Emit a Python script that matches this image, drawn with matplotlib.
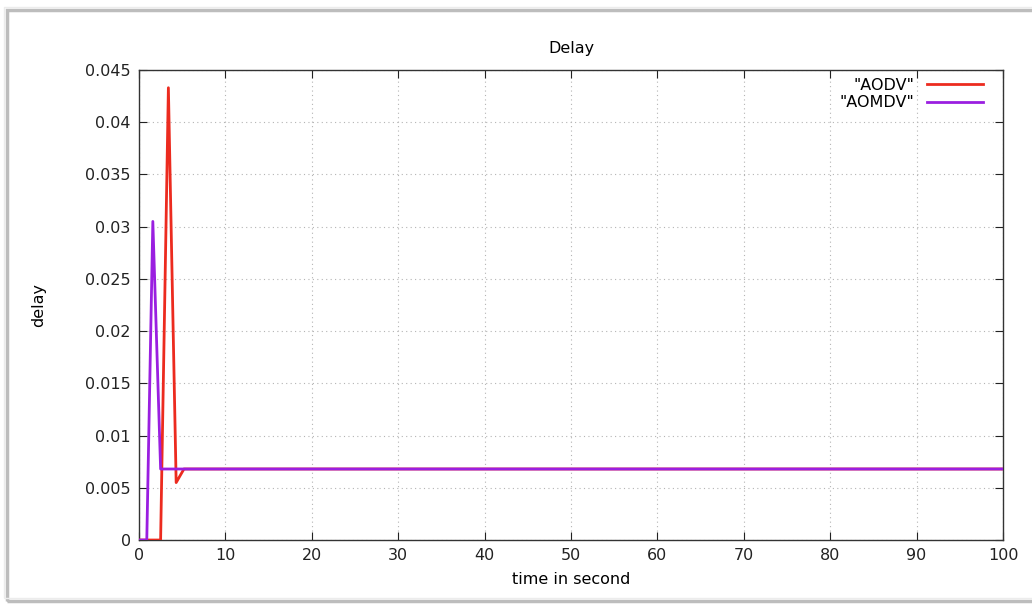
import numpy as np
import matplotlib
matplotlib.use("Agg")
import matplotlib.pyplot as plt
from matplotlib.patches import Rectangle

#--- data ---#
aodv_t = [0, 1, 2.5, 3.4, 4.3, 5.2, 10, 20, 30, 40, 50, 60, 70, 80, 90, 100]
aodv_d = [0, 0, 0, 0.0433, 0.0055, 0.0068, 0.0068, 0.0068, 0.0068, 0.0068,
          0.0068, 0.0068, 0.0068, 0.0068, 0.0068, 0.0068]
aomdv_t = [0, 0.9, 1.6, 2.5, 10, 20, 30, 40, 50, 60, 70, 80, 90, 100]
aomdv_d = [0, 0, 0.0305, 0.0068, 0.0068, 0.0068, 0.0068, 0.0068, 0.0068,
           0.0068, 0.0068, 0.0068, 0.0068, 0.0068]
x_ticks = [0, 10, 20, 30, 40, 50, 60, 70, 80, 90, 100]
y_ticks = [0, 0.005, 0.01, 0.015, 0.02, 0.025, 0.03, 0.035, 0.04, 0.045]
y_tick_labels = ["0", "0.005", "0.01", "0.015", "0.02", "0.025", "0.03",
                 "0.035", "0.04", "0.045"]

fig = plt.figure(figsize=(10.32, 6.08), dpi=100)
#--- screenshot frame with shadow (right side is cut off) ---#
fig.patches.append(Rectangle((0.007, 0.012), 1.05, 0.972, transform=fig.transFigure,
                             fill=False, edgecolor="#bdbdbd", linewidth=2.5, zorder=0))
fig.patches.append(Rectangle((0.004, 0.016), 1.05, 0.972, transform=fig.transFigure,
                             fill=False, edgecolor="#ececec", linewidth=1.0, zorder=0))

ax = fig.add_axes([0.1347, 0.1118, 0.8372, 0.7731])
ax.plot(aodv_t, aodv_d, color="#ec2b1f", linewidth=2.0, label='"AODV"', zorder=3)
ax.plot(aomdv_t, aomdv_d, color="#9a1fe0", linewidth=2.0, label='"AOMDV"', zorder=4)

ax.set_xlim(0, 100)
ax.set_ylim(0, 0.045)
ax.set_xticks(x_ticks)
ax.set_yticks(y_ticks)
ax.set_yticklabels(y_tick_labels)
ax.tick_params(direction="in", length=6, top=True, right=True, labelsize=11.5,
               colors="#222222", pad=6)
ax.grid(True, linestyle=(0, (1, 3)), color="#b4b4b4", linewidth=0.8)
for s in ax.spines.values():
    s.set_color("#333333")
    s.set_linewidth(1.0)

ax.set_title("Delay", fontsize=11.5, pad=12)
ax.set_xlabel("time in second", fontsize=11.5, labelpad=6)
ax.set_ylabel("delay", fontsize=11.5, labelpad=28)

ax.legend(loc="upper right", bbox_to_anchor=(0.9919, 1.0106), frameon=False,
          markerfirst=False, fontsize=11.5, handlelength=3.5, handletextpad=0.8,
          labelspacing=0.15, borderaxespad=0.4)

fig.savefig("out.png", dpi=100)
